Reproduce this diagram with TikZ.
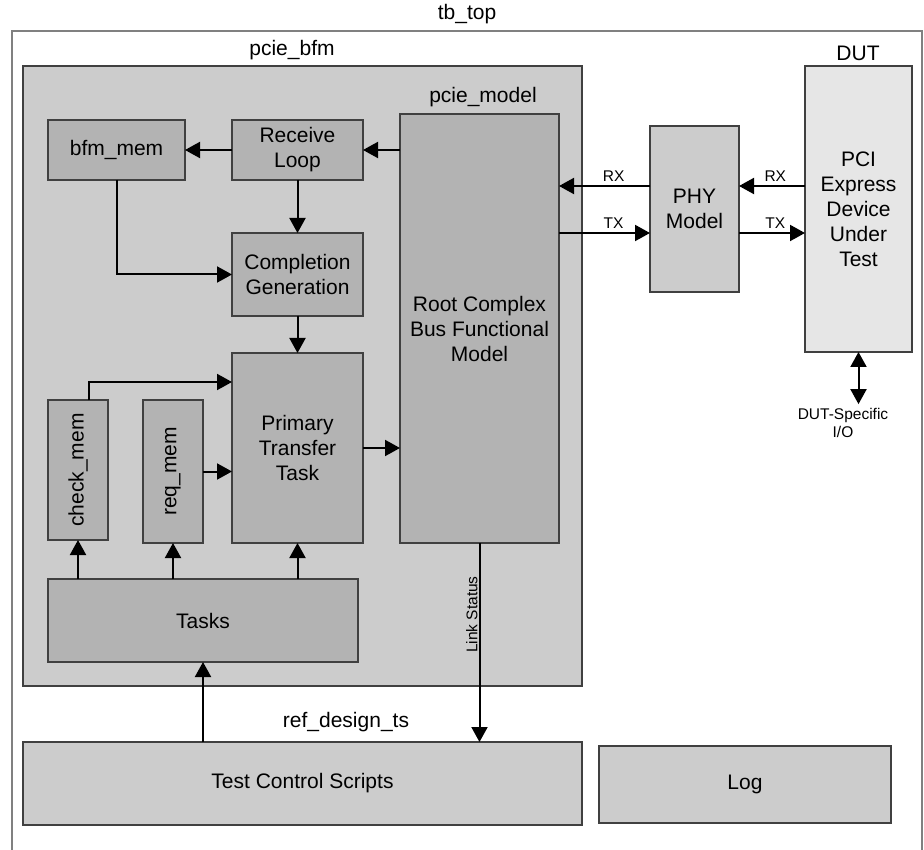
\documentclass[tikz,border=0pt]{standalone}
\usepackage{fontspec}
\setmainfont{Liberation Sans}
\usepackage{graphicx}
\usetikzlibrary{arrows.meta}

\definecolor{bfmgray}{RGB}{204,204,204}
\definecolor{boxgray}{RGB}{179,179,179}
\definecolor{dutgray}{RGB}{230,230,230}
\definecolor{edgegray}{RGB}{64,64,64}

\newcommand{\bigtxt}{\fontsize{21}{25}\selectfont}
\newcommand{\smalltxt}{\fontsize{15.5}{18}\selectfont}

\begin{document}
\begin{tikzpicture}[x=1pt, y=-1pt,
	frame/.style={draw=gray, line width=2pt, fill=white, inner sep=0pt, outer sep=0pt},
	blk/.style={draw=edgegray, line width=1.3pt, fill=boxgray, align=center,
		font=\bigtxt, inner sep=0pt, outer sep=0pt},
	lightblk/.style={blk, fill=bfmgray},
	title/.style={font=\bigtxt, inner sep=0pt},
	sig/.style={line width=2pt, -{Triangle[length=15pt, width=16pt]}},
	bisig/.style={line width=2pt, {Triangle[length=15pt, width=16pt]}-{Triangle[length=15pt, width=16pt]}},
	siglbl/.style={font=\smalltxt, inner sep=1pt}]

	\useasboundingbox (0,0) rectangle (924,850);

	% outer testbench and the bfm around it
	\node[frame, minimum width=910pt, minimum height=821pt] (tbtop) at (467,441.5) {};
	\node[title] (tbtoplbl) at (467,14) {tb\_top};
	\node[lightblk, minimum width=559pt, minimum height=620pt] (bfm) at (302.5,376) {};
	\node[title] (bfmlbl) at (292,50) {pcie\_bfm};

	\node[blk, minimum width=159pt, minimum height=429pt] (model) at (479.5,328.5)
		{Root Complex\\Bus Functional\\Model};
	\node[title] (modellbl) at (483,97) {pcie\_model};

	\node[blk, minimum width=137pt, minimum height=60pt] (bfmmem) at (116.5,150) {bfm\_mem};
	\node[blk, minimum width=131pt, minimum height=60pt] (recv) at (297.5,150) {Receive\\Loop};
	\node[blk, minimum width=131pt, minimum height=83pt] (compl) at (297.5,274.5) {Completion\\Generation};
	\node[blk, minimum width=131pt, minimum height=190pt] (ptt) at (297.5,448) {Primary\\Transfer\\Task};
	\node[blk, minimum width=60pt, minimum height=140pt] (check) at (78,470) {\rotatebox{90}{check\_mem}};
	\node[blk, minimum width=60pt, minimum height=143pt] (req) at (173,471.5) {\rotatebox{90}{req\_mem}};
	\node[blk, minimum width=310pt, minimum height=83pt] (tasks) at (203,620.5) {Tasks};

	% scripts and log
	\node[lightblk, minimum width=559pt, minimum height=83pt] (tcs) at (302.5,783.5) {Test Control Scripts};
	\node[title] (tcslbl) at (346,722) {ref\_design\_ts};
	\node[lightblk, minimum width=292pt, minimum height=77pt] (log) at (745,784.5) {Log};

	% phy and device
	\node[lightblk, minimum width=89pt, minimum height=166pt] (phy) at (694.5,209) {PHY\\Model};
	\node[blk, fill=dutgray, minimum width=107pt, minimum height=286pt] (dut) at (858.5,209)
		{PCI\\Express\\Device\\Under\\Test};
	\node[title] (dutlbl) at (858,53) {DUT};
	\node[font=\smalltxt, align=center, inner sep=0pt] (io) at (843,423) {DUT-Specific\\I/O};

	% connections inside pcie_bfm
	\draw[sig] (recv.east -| model.west) -- (recv.east);
	\draw[sig] (recv.west) -- (bfmmem.east);
	\draw[sig] (recv.south) -- (compl.north);
	\draw[sig] (bfmmem.south) |- (compl.west);
	\draw[sig] (compl.south) -- (ptt.north);
	\draw[sig] ([xshift=11pt]check.north) |- ([yshift=-29pt]ptt.north west);
	\draw[sig] (req.east) -- (req.east -| ptt.west);
	\draw[sig] (ptt.east) -- (ptt.east -| model.west);
	\draw[sig] (check.south |- tasks.north) -- (check.south);
	\draw[sig] (req.south |- tasks.north) -- (req.south);
	\draw[sig] (ptt.south |- tasks.north) -- (ptt.south);
	\draw[sig] (tasks.south |- tcs.north) -- (tasks.south);
	\draw[sig] (model.south) -- (model.south |- tcs.north)
		node[siglbl, pos=0.36, rotate=90, anchor=south] {Link Status};

	% rx / tx lanes
	\draw[sig] ([yshift=23pt]phy.west) -- ([yshift=23pt]phy.west -| model.east)
		node[siglbl, pos=0.4, above=2pt] {RX};
	\draw[sig] ([yshift=-24pt]phy.west -| model.east) -- ([yshift=-24pt]phy.west)
		node[siglbl, pos=0.6, above=2pt] {TX};
	\draw[sig] ([yshift=23pt]phy.east -| dut.west) -- ([yshift=23pt]phy.east)
		node[siglbl, pos=0.45, above=2pt] {RX};
	\draw[sig] ([yshift=-24pt]phy.east) -- ([yshift=-24pt]phy.east -| dut.west)
		node[siglbl, pos=0.55, above=2pt] {TX};
	\draw[bisig] (dut.south) -- ([yshift=4pt]dut.south |- io.north);

\end{tikzpicture}
\end{document}
